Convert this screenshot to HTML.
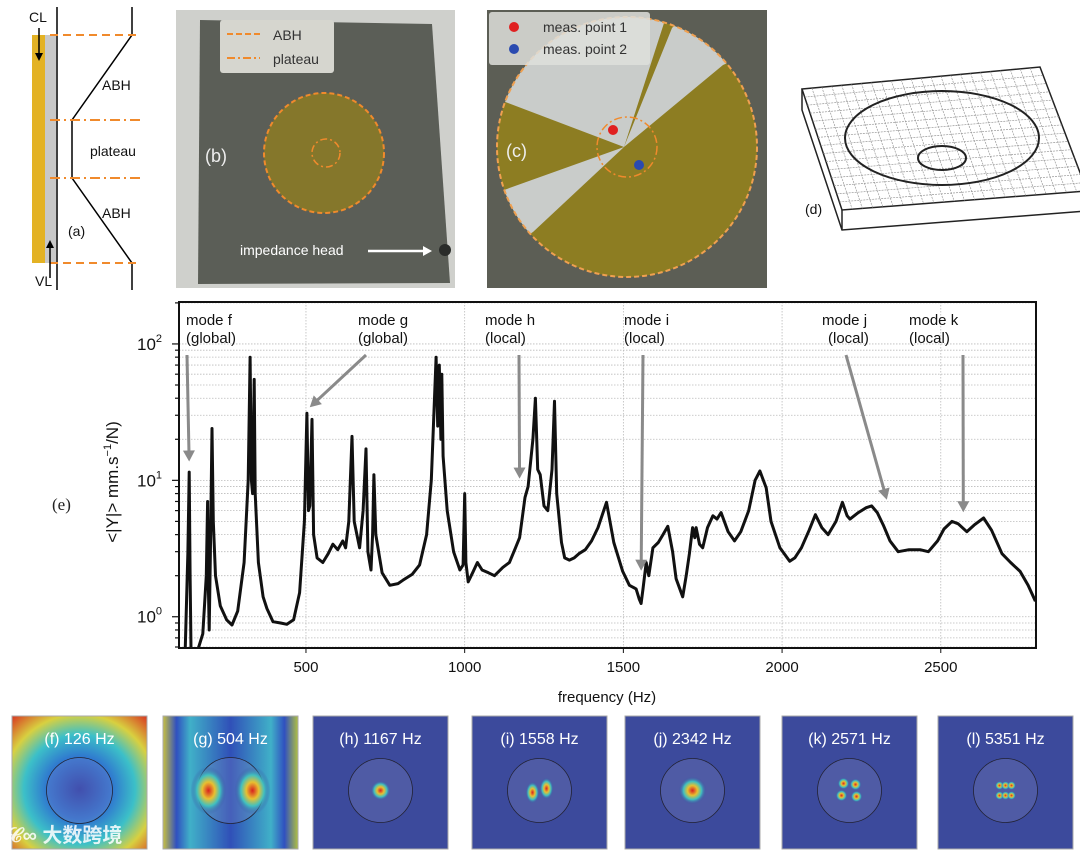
<!DOCTYPE html>
<html><head><meta charset="utf-8"><style>
html,body{margin:0;padding:0;background:#fff;}
svg{display:block;font-family:"Liberation Sans",sans-serif;}
</style></head><body>
<svg id="fig" width="1080" height="855" viewBox="0 0 1080 855" xmlns="http://www.w3.org/2000/svg">
<defs>
  <clipPath id="plotclip"><rect x="179" y="302" width="857" height="346"/></clipPath>
  <clipPath id="cclip"><circle cx="627" cy="147" r="130"/></clipPath>
  <clipPath id="dclip"><polygon points="802,89 1040,67 1087,191 842,210"/></clipPath>
  <radialGradient id="gf" cx="50%" cy="55%" r="75%">
    <stop offset="0" stop-color="#2a3aa8"/><stop offset="0.3" stop-color="#2e6fd0"/><stop offset="0.55" stop-color="#3cc0c8"/><stop offset="0.75" stop-color="#d8d040"/><stop offset="1" stop-color="#d83020"/>
  </radialGradient>
  <linearGradient id="gg" x1="0" x2="1" y1="0" y2="0">
    <stop offset="0" stop-color="#c8c040"/><stop offset="0.1" stop-color="#3050c0"/><stop offset="0.2" stop-color="#40b0c8"/><stop offset="0.5" stop-color="#3050b8"/><stop offset="0.8" stop-color="#40b0c8"/><stop offset="0.9" stop-color="#3050c0"/><stop offset="1" stop-color="#b0c040"/>
  </linearGradient>
  <radialGradient id="hot"><stop offset="0" stop-color="#d82020"/><stop offset="0.35" stop-color="#e8c030"/><stop offset="0.65" stop-color="#40c0c0"/><stop offset="1" stop-color="#3a4aa0" stop-opacity="0"/></radialGradient>
</defs>

<!-- panel a -->
<g>
  <rect x="32" y="35" width="13" height="228" fill="#e3b224"/>
  <rect x="45" y="35" width="11" height="228" fill="#c8c8c8"/>
  <line x1="57" y1="7" x2="57" y2="290" stroke="#000" stroke-width="1.5"/>
  <polyline points="132,7 132,35 72,120 72,178 132,263 132,290" fill="none" stroke="#000" stroke-width="1.5"/>
  <g stroke="#f08a2c" stroke-width="2">
    <line x1="50" y1="35" x2="140" y2="35" stroke-dasharray="8,5"/>
    <line x1="50" y1="263" x2="140" y2="263" stroke-dasharray="8,5"/>
    <line x1="50" y1="120" x2="140" y2="120" stroke-dasharray="10,4,2,4"/>
    <line x1="50" y1="178" x2="140" y2="178" stroke-dasharray="10,4,2,4"/>
  </g>
  <line x1="39" y1="28" x2="39" y2="55" stroke="#000" stroke-width="1.5"/><polygon points="35,53 43,53 39,61" fill="#000"/>
  <line x1="50" y1="278" x2="50" y2="246" stroke="#000" stroke-width="1.5"/><polygon points="46,248 54,248 50,240" fill="#000"/>
  <g font-size="14" fill="#111">
    <text x="29" y="22">CL</text><text x="102" y="90">ABH</text><text x="90" y="156">plateau</text>
    <text x="102" y="218">ABH</text><text x="68" y="236">(a)</text><text x="35" y="286">VL</text>
  </g>
</g>

<!-- panel b -->
<g>
  <rect x="176" y="10" width="279" height="278" fill="#cfd0cc"/>
  <polygon points="200,20 432,24 450,283 198,284" fill="#5b5e57"/>
  <rect x="220" y="20" width="114" height="53" rx="3" fill="#d6d6cf"/>
  <line x1="227" y1="34" x2="260" y2="34" stroke="#f08a2c" stroke-width="2" stroke-dasharray="6,3"/>
  <line x1="227" y1="58" x2="260" y2="58" stroke="#f08a2c" stroke-width="2" stroke-dasharray="8,3,2,3"/>
  <text x="273" y="40" font-size="14" fill="#333">ABH</text><text x="273" y="64" font-size="14" fill="#333">plateau</text>
  <circle cx="324" cy="153" r="60" fill="#85772b" stroke="#f08a2c" stroke-width="2" stroke-dasharray="5,3"/>
  <circle cx="326" cy="153" r="14" fill="none" stroke="#f08a2c" stroke-width="1.5" stroke-dasharray="7,3,2,3"/>
  <text x="205" y="162" font-size="18" fill="#eee">(b)</text>
  <text x="240" y="255" font-size="14" fill="#fff">impedance head</text>
  <line x1="368" y1="251" x2="425" y2="251" stroke="#fff" stroke-width="2.5"/><polygon points="423,246 432,251 423,256" fill="#fff"/>
  <circle cx="445" cy="250" r="6" fill="#2a2c2a"/>
</g>

<!-- panel c -->
<g>
  <rect x="487" y="10" width="280" height="278" fill="#5c5e55"/>
  <circle cx="627" cy="147" r="130" fill="#8d7d22"/>
  <g clip-path="url(#cclip)" fill="#c9ccca">
    <polygon points="624,147 500,100 480,0 665,0 665,20"/>
    <polygon points="624,147 672,28 700,0 780,0 780,40 723,65"/>
    <polygon points="624,147 490,195 490,260 533,232"/>
  </g>
  <circle cx="627" cy="147" r="130" fill="none" stroke="#f0a050" stroke-width="2" stroke-dasharray="5,3"/>
  <circle cx="627" cy="147" r="30" fill="none" stroke="#f08a2c" stroke-width="1.5" stroke-dasharray="8,3,2,3"/>
  <circle cx="613" cy="130" r="5" fill="#e02020"/><circle cx="639" cy="165" r="5" fill="#2a4ab0"/>
  <rect x="489" y="12" width="161" height="53" rx="3" fill="#dedfdc" fill-opacity="0.85"/>
  <circle cx="514" cy="27" r="5" fill="#e02020"/><circle cx="514" cy="49" r="5" fill="#2a4ab0"/>
  <text x="543" y="32" font-size="14" fill="#333">meas. point 1</text><text x="543" y="54" font-size="14" fill="#333">meas. point 2</text>
  <text x="506" y="157" font-size="18" fill="#eee">(c)</text>
</g>

<!-- panel d -->
<g stroke="#222" fill="none">
  <polygon points="802,89 1040,67 1087,191 842,210" fill="#fff" stroke-width="1.5"/>
  <polyline points="802,89 802,110 842,230 1087,211" stroke-width="1.5"/>
  <line x1="842" y1="210" x2="842" y2="230" stroke-width="1.5"/>
  <g id="mesh" clip-path="url(#dclip)" stroke="#999" stroke-width="0.7" stroke-dasharray="2,1"></g>
  <ellipse cx="942" cy="138" rx="97" ry="47" stroke-width="2"/>
  <ellipse cx="942" cy="158" rx="24" ry="12" stroke-width="2"/>
  <text x="805" y="214" font-size="14" fill="#111" stroke="none">(d)</text>
</g>

<!-- panel e chart -->
<g>
  <g id="grid"></g>
  <g id="yticks"></g>
  <g id="xticks"></g>
  <path id="curve" clip-path="url(#plotclip)" fill="none" stroke="#111" stroke-width="3" stroke-linejoin="round"/>
  <g id="annots" font-size="15" fill="#111"></g>
  <rect x="179" y="302" width="857" height="346" fill="none" stroke="#111" stroke-width="2"/>
  <text x="607" y="702" font-size="15" text-anchor="middle" fill="#111">frequency (Hz)</text>
  <text transform="translate(118,482) rotate(-90)" font-size="17" text-anchor="middle" fill="#111">&lt;|Y|&gt; mm.s<tspan dy="-7" font-size="11">−1</tspan><tspan dy="7">/N)</tspan></text>
  <text x="52" y="510" font-size="17" font-family="Liberation Serif, serif" fill="#222">(e)</text>
</g>

<!-- bottom heatmaps -->
<g id="maps"></g>
<text x="8" y="842" font-size="20" fill="#fff" fill-opacity="0.85" font-family="Liberation Sans, Noto Sans CJK SC, sans-serif" font-weight="bold">𝒞∞ 大数跨境</text>
</svg>
<script>
const freqs=[100,119,128,132,135,138,157,175,186,190,193,195,199,204,208,215,230,250,267,285,305,318,324,328,332,337,340,350,365,377,396,420,440,461,480,495,503,508,512,519,524,535,553,570,585,600,616,625,635,645,652,669,680,689,695,705,710,714,720,740,764,790,805,835,858,880,895,905,910,915,920,925,928,932,945,965,985,995,1000,1004,1011,1025,1040,1055,1075,1094,1120,1141,1160,1173,1190,1200,1215,1223,1230,1238,1250,1262,1275,1283,1290,1305,1315,1330,1345,1360,1380,1400,1420,1447,1470,1498,1519,1540,1550,1556,1562,1572,1580,1593,1610,1625,1640,1655,1666,1687,1698,1708,1718,1725,1729,1740,1750,1765,1782,1795,1808,1830,1850,1870,1895,1915,1930,1950,1965,1993,2024,2040,2061,2085,2105,2125,2145,2170,2190,2205,2214,2240,2265,2282,2300,2319,2340,2366,2400,2435,2461,2490,2510,2535,2555,2582,2605,2635,2660,2693,2720,2750,2775,2798];
const mags=[0.5,0.5,3,11.5,2,0.5,0.55,0.75,2,7,1.5,0.8,3,24,5,2,1.2,0.95,0.87,1.1,2.5,10,80,10,8,55,8,2.5,1.4,1.15,0.92,0.9,0.88,0.95,1.5,5,31,6,6.5,28,4,2.7,2.5,2.9,3.4,3.1,3.6,3.2,5,21,5,3.2,6,17,3,2.2,4,11,4,2.1,1.7,1.75,1.85,2.05,2.4,4,10,40,80,25,70,20,60,15,6,3,2.2,2.4,8,2.5,1.8,2.1,2.5,2.2,2.1,2.0,2.3,2.5,3.2,3.8,7.5,9,20,40,12,11,6.5,6,12,38,8,3.5,2.7,2.6,2.7,2.9,3.1,3.6,4.5,6.9,3.5,2.15,1.7,1.6,1.35,1.25,1.6,2.5,2.0,3.2,3.5,4.0,4.6,3.0,1.9,1.4,2.0,2.9,4.5,3.8,4.5,3.4,3.2,4.5,5.5,5.2,5.8,4.2,3.6,4.2,6,10,11.7,8.8,5,3.2,2.55,2.7,3.2,4.3,5.6,4.5,4.0,5,6.9,5.5,5.2,5.8,6.3,6.5,5.8,4.7,3.6,3.0,3.1,3.1,3.0,3.6,4.4,5.0,4.8,4.2,4.7,5.3,4.3,2.9,2.5,2.15,1.7,1.3];
const xTickVals=[500,1000,1500,2000,2500];
const yDecades=[0,1,2];
const modeNames=["mode f","mode g","mode h","mode i","mode j","mode k"];
const modeTypes=["(global)","(global)","(local)","(local)","(local)","(local)"];
const modeFreqs=[132,512,1173,1556,2330,2571];
const modeMags=[12,30,9,1.9,6.3,5.1];
const mapLabels=["(f) 126 Hz","(g) 504 Hz","(h) 1167 Hz","(i) 1558 Hz","(j) 2342 Hz","(k) 2571 Hz","(l) 5351 Hz"];

const NS="http://www.w3.org/2000/svg";
const X0=179,X1=1036,Y0=302,Y1=648,FMIN=100,FMAX=2800,LMIN=Math.log10(0.59),LMAX=Math.log10(203);
const xs=f=>X0+(f-FMIN)/(FMAX-FMIN)*(X1-X0);
const ys=v=>Y1-(Math.log10(v)-LMIN)/(LMAX-LMIN)*(Y1-Y0);
function mk(tag,attrs,parent){const e=document.createElementNS(NS,tag);for(const k in attrs)e.setAttribute(k,attrs[k]);parent.appendChild(e);return e;}

const grid=document.getElementById('grid');
for(const d of [-1,0,1,2]){for(let m=1;m<10;m++){const v=m*Math.pow(10,d);const y=ys(v);if(y<Y0||y>Y1)continue;
  const l=mk('line',{x1:X0,x2:X1,y1:y,y2:y,stroke:'#bbb','stroke-width':0.8,'stroke-dasharray':'1.5,1.5'},grid);
  
  
  const t=mk('line',{x1:X0-(m==1?7:4),x2:X0,y1:y,y2:y,stroke:'#111','stroke-width':1.2},grid);
  
  }}
const xt=document.getElementById('xticks');
for(const f of xTickVals){const x=xs(f);
  const l=mk('line',{x1:x,x2:x,y1:Y0,y2:Y1,stroke:'#bbb','stroke-width':0.8,'stroke-dasharray':'1.5,1.5'},grid);
  
  
  const t=mk('line',{x1:x,x2:x,y1:Y1,y2:Y1+5,stroke:'#111','stroke-width':1},xt);
  
  
  const tx=mk('text',{x:x,y:Y1+24,'font-size':15,'text-anchor':'middle',fill:'#111'},xt);tx.textContent=f;
  
  }
const yt=document.getElementById('yticks');
for(const d of yDecades){const y=ys(Math.pow(10,d));
  const tx=mk('text',{x:137,y:y+6,'font-size':17,fill:'#111'},yt);
  tx.innerHTML='10<tspan dy="-8" font-size="11">'+d+'</tspan>';
  
  }
let dstr='';freqs.forEach((f,i)=>{dstr+=(i?'L':'M')+xs(f).toFixed(1)+','+ys(mags[i]).toFixed(1);});
document.getElementById('curve').setAttribute('d',dstr);

const an=document.getElementById('annots');
const labelX=[186,358,485,624,822,909];
const startX=[187,366,519,643,846,963];
modeNames.forEach((n,i)=>{
  const g=mk('g',{},an);
  
  
  const t1=mk('text',{x:labelX[i],y:325},g);t1.textContent=n;
  const t2=mk('text',{x:labelX[i]+(i==4?6:0),y:343},g);t2.textContent=modeTypes[i];
  const x1=startX[i],y1=355,x2=xs(modeFreqs[i]),y2=ys(modeMags[i])-8;
  const dx=x2-x1,dy=y2-y1,L=Math.hypot(dx,dy),ux=dx/L,uy=dy/L;
  mk('line',{x1:x1,y1:y1,x2:x2-ux*8,y2:y2-uy*8,stroke:'#8a8a8a','stroke-width':3},g);
  mk('polygon',{points:`${x2},${y2} ${x2-ux*11-uy*6},${y2-uy*11+ux*6} ${x2-ux*11+uy*6},${y2-uy*11-ux*6}`,fill:'#8a8a8a'},g);
});

// mesh lines for panel d (bilinear quad)
const mesh=document.getElementById('mesh');
const Q=[[802,89],[1040,67],[1087,191],[842,210]];
const P=(u,v)=>[(1-u)*(1-v)*Q[0][0]+u*(1-v)*Q[1][0]+u*v*Q[2][0]+(1-u)*v*Q[3][0],(1-u)*(1-v)*Q[0][1]+u*(1-v)*Q[1][1]+u*v*Q[2][1]+(1-u)*v*Q[3][1]];
for(let i=1;i<24;i++){const u=i/24;const a=P(u,0),b=P(u,1);mk('line',{x1:a[0],y1:a[1],x2:b[0],y2:b[1]},mesh);}
for(let j=1;j<15;j++){const v=j/15;const a=P(0,v),b=P(1,v);mk('line',{x1:a[0],y1:a[1],x2:b[0],y2:b[1]},mesh);}

// maps
const maps=document.getElementById('maps');
const mapX=[12,163,313,472,625,782,938];
mapLabels.forEach((lab,i)=>{
  const x=mapX[i],y=716,w=135,h=133;
  const g=mk('g',{},maps);
  
  
  mk('rect',{x:x,y:y,width:w,height:h,fill:i==0?'url(#gf)':i==1?'url(#gg)':'#3c4a9c',stroke:'#aaa','stroke-width':1},g);
  const cx=x+w/2,cy=y+h*0.56;
  mk('circle',{cx:cx,cy:cy,r:i<2?33:32,fill:'#8890c0','fill-opacity':0.25,stroke:'#223','stroke-width':0.8},g);
  if(i==1){mk('ellipse',{cx:cx-22,cy:cy,rx:18,ry:24,fill:'url(#hot)'},g);mk('ellipse',{cx:cx+22,cy:cy,rx:18,ry:24,fill:'url(#hot)'},g);}
  if(i==2){mk('circle',{cx:cx,cy:cy,r:10,fill:'url(#hot)'},g);}
  if(i==3){mk('ellipse',{cx:cx-7,cy:cy+2,rx:7,ry:11,fill:'url(#hot)'},g);mk('ellipse',{cx:cx+7,cy:cy-2,rx:7,ry:11,fill:'url(#hot)'},g);}
  if(i==4){mk('circle',{cx:cx,cy:cy,r:14,fill:'url(#hot)'},g);}
  if(i==5){[[-6,-7],[6,-6],[-8,5],[7,6]].forEach(p=>mk('circle',{cx:cx+p[0],cy:cy+p[1],r:6,fill:'url(#hot)'},g));}
  if(i==6){[[-6,-5],[0,-5],[6,-5],[-6,5],[0,5],[6,5]].forEach(p=>mk('circle',{cx:cx+p[0],cy:cy+p[1],r:4.5,fill:'url(#hot)'},g));}
  const t=mk('text',{x:x+w/2,y:y+28,'font-size':16,'text-anchor':'middle',fill:'#fff'},g);t.textContent=lab;
});
</script>
</body></html>
